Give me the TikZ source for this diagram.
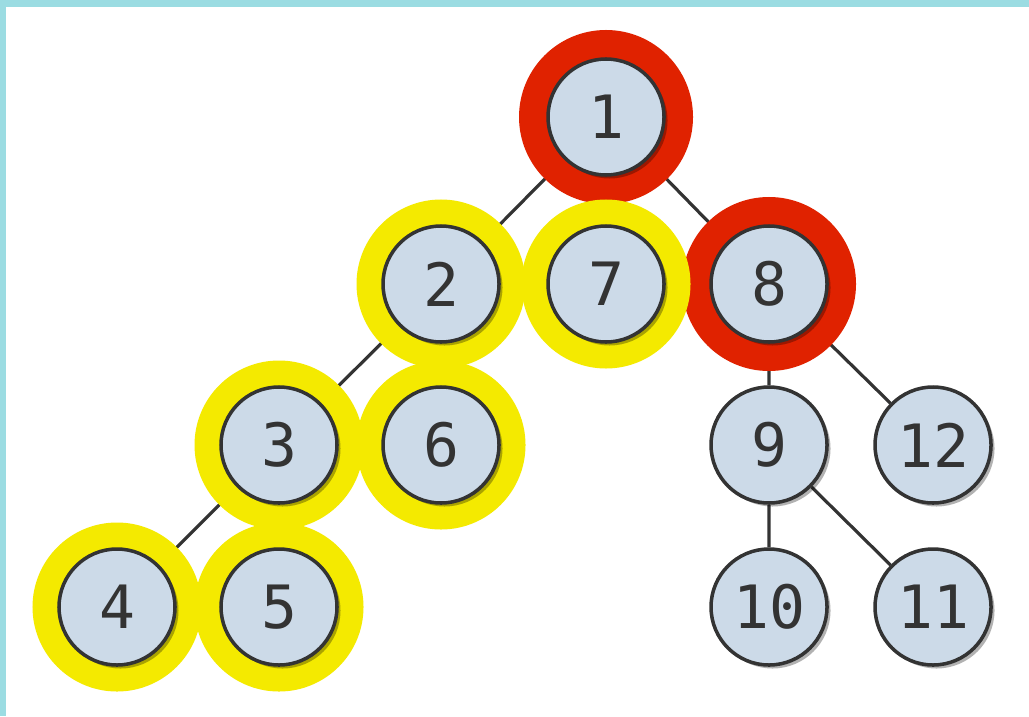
\documentclass[tikz,border=0pt]{standalone}
\usepackage{fontspec}
\setmonofont{DejaVu Sans Mono}
\usetikzlibrary{shadows,backgrounds}
\definecolor{bgcyan}{HTML}{9BDCE2}
\definecolor{nodefill}{HTML}{CCDAE8}
\definecolor{ringred}{HTML}{E02200}
\definecolor{ringyel}{HTML}{F4EA00}
\definecolor{inkgray}{HTML}{333333}

\begin{document}
\begin{tikzpicture}[
  vtx/.style={circle, draw=inkgray, line width=1pt, fill=nodefill, minimum size=1.16cm,
              inner sep=0pt, font=\ttfamily\fontsize{17}{17}\selectfont, text=inkgray,
              drop shadow={shadow xshift=0.035cm, shadow yshift=-0.035cm, fill=black, opacity=0.3}},
  lnk/.style={draw=inkgray, line width=0.9pt},
  redring/.style={draw=ringred, line width=0.28cm},
  yelring/.style={draw=ringyel, line width=0.26cm},
]
\useasboundingbox (0,0) rectangle (10.29,-7.16);

% --- Tree nodes ---
\node[vtx] (n1)  at (6.06,-1.17) {1};
\node[vtx] (n2)  at (4.41,-2.84) {2};
\node[vtx] (n7)  at (6.06,-2.84) {7};
\node[vtx] (n8)  at (7.69,-2.84) {8};
\node[vtx] (n3)  at (2.79,-4.45) {3};
\node[vtx] (n6)  at (4.41,-4.45) {6};
\node[vtx] (n9)  at (7.69,-4.45) {9};
\node[vtx] (n12) at (9.33,-4.45) {12};
\node[vtx] (n4)  at (1.17,-6.07) {4};
\node[vtx] (n5)  at (2.79,-6.07) {5};
\node[vtx] (n10) at (7.69,-6.07) {10};
\node[vtx] (n11) at (9.33,-6.07) {11};

\begin{scope}[on background layer]
% --- Page and frame ---
\fill[bgcyan] (0,0) rectangle (10.29,-7.16);
\fill[white] (0.06,-0.07) rectangle (10.29,-7.16);

% --- Edges ---
\path[lnk] (n1) -- (n2) (n1) -- (n7) (n1) -- (n8)
           (n2) -- (n3) (n2) -- (n6)
           (n3) -- (n4) (n3) -- (n5)
           (n8) -- (n9) (n8) -- (n12)
           (n9) -- (n10) (n9) -- (n11);

% --- Rings ---
\draw[redring] (n1) circle (0.73);
\draw[redring] (n8) circle (0.73);
\foreach \v in {n2,n7,n3,n6,n4,n5}
  \draw[yelring] (\v) circle (0.715);
\end{scope}
\end{tikzpicture}
\end{document}
